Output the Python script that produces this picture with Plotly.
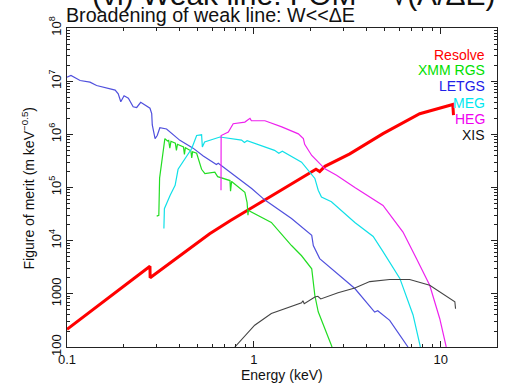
import plotly.graph_objects as go

# ---- data (energy keV, figure of merit) ----
resolve_e = [0.1, 0.278, 0.2785, 0.40, 0.58, 0.75, 1.0, 1.5, 2.0, 2.15, 2.25, 2.4, 3.26, 4.91, 7.72, 10.0, 11.6, 11.7]
resolve_v = [215, 3300, 2000, 5100, 13500, 24000, 44000, 1.03e5, 1.9e5, 2.2e5, 2.0e5, 2.5e5, 4.3e5, 1.03e6, 2.44e6, 3.2e6, 3.65e6, 2.3e6]

rgs_e = [0.302, 0.310, 0.313, 0.334, 0.345, 0.350, 0.355, 0.360, 0.380, 0.385, 0.390, 0.420, 0.425, 0.430,
         0.460, 0.465, 0.470, 0.494, 0.525, 0.547, 0.618, 0.640, 0.745, 0.75, 0.76, 0.859, 0.895, 0.92,
         0.93, 0.935, 1.146, 1.24, 1.59, 1.80, 2.04, 2.12, 2.21, 2.40, 2.62]
rgs_v = [2.9e4, 3.0e4, 1.5e5, 8.3e5, 7.5e5, 7.7e5, 5.5e5, 7.4e5, 6.8e5, 5.0e5, 6.5e5, 5.8e5, 4.2e5, 5.6e5,
         4.9e5, 3.6e5, 4.7e5, 4.4e5, 2.2e5, 1.82e5, 1.95e5, 1.6e5, 1.35e5, 8.5e4, 1.3e5, 8.9e4, 8.1e4, 5.2e4,
         3.0e4, 3.7e4, 2.6e4, 2.2e4, 8100, 5200, 2950, 930, 460, 224, 100]

letgs_e = [0.1, 0.105, 0.1175, 0.1327, 0.144, 0.181, 0.188, 0.194, 0.202, 0.213, 0.226, 0.236, 0.248,
           0.278, 0.284, 0.286, 0.296, 0.304, 0.314, 0.341, 0.402, 0.473, 0.536, 0.582, 0.63, 0.645,
           0.973, 1.146, 1.59, 2.04, 2.08, 2.25, 3.47, 4.43, 4.6, 5.33, 6.68]
letgs_v = [1.19e7, 1.28e7, 1.03e7, 9.6e6, 8.3e6, 6.8e6, 5.8e6, 4.1e6, 5.3e6, 4.8e6, 3.3e6, 3.2e6, 4.0e6,
           3.1e6, 2.45e6, 1.5e6, 8.3e5, 9.5e5, 1.33e6, 1.26e6, 7.7e5, 5.5e5, 3.9e5, 3.2e5, 2.7e5, 2.85e5,
           9.6e4, 5.8e4, 2.6e4, 1.26e4, 8100, 4600, 1260, 455, 480, 318, 100]

meg_e = [0.330, 0.332, 0.356, 0.379, 0.393, 0.428, 0.465, 0.494, 0.525, 0.530, 0.545, 0.658, 0.859, 0.89,
         0.92, 1.29, 1.36, 1.42, 1.80, 2.12, 2.21, 2.30, 2.60, 3.47, 4.35, 4.91, 6.04, 7.11, 7.78]
meg_v = [1.7e4, 4.0e4, 7.1e4, 1.1e5, 2.2e5, 3.5e5, 5.4e5, 9.5e5, 9.8e5, 5.8e5, 7.2e5, 8.9e5, 7.8e5, 7.0e5,
         7.6e5, 5.0e5, 4.4e5, 4.8e5, 3.0e5, 1.48e5, 8.9e4, 6.6e4, 5.4e4, 2.2e4, 1.2e4, 6200, 1950, 400, 100]

heg_e = [0.667, 0.668, 0.730, 0.775, 0.895, 0.953, 0.97, 1.146, 1.41, 1.73, 1.84, 1.87, 2.04, 2.21,
         2.40, 2.77, 3.47, 4.91, 6.28, 7.41, 8.73, 9.88, 10.7]
heg_v = [8.9e4, 9.5e5, 1.1e6, 1.58e6, 1.7e6, 2.0e6, 1.8e6, 1.8e6, 1.38e6, 1.02e6, 8.3e5, 6.5e5, 4.0e5, 3.0e5,
         2.24e5, 1.7e5, 1.0e5, 4.6e4, 1.45e4, 4600, 1450, 340, 100]

xis_e = [0.791, 1.01, 1.24, 1.56, 1.58, 1.80, 1.83, 1.86, 2.12, 2.2, 2.28, 2.82, 3.47, 4.17, 5.33, 6.82,
         8.73, 10.7, 11.9, 12.0]
xis_v = [100, 257, 427, 562, 590, 676, 740, 650, 870, 900, 800, 1050, 1290, 1700, 1860, 1860,
         1450, 930, 710, 525]

x_tickvals = [0.1, 1, 10]
x_ticktext = ["0.1", "1", "10"]
y_tickvals = [1e2, 1e3, 1e4, 1e5, 1e6, 1e7, 1e8]
y_ticktext = ["100", "1000", "10<sup>4</sup>", "10<sup>5</sup>", "10<sup>6</sup>", "10<sup>7</sup>", "10<sup>8</sup>"]

legend_names = ["Resolve", "XMM RGS", "LETGS", "MEG", "HEG", "XIS"]
legend_colors = ["#ff0000", "#00e000", "#2020e8", "#00e8f0", "#f000f0", "#111111"]

FONT = "Liberation Sans, Arial, Helvetica, sans-serif"

fig = go.Figure()
series = [
    (resolve_e, resolve_v, "#ff0000", 3),
    (rgs_e, rgs_v, "#22dd22", 1.2),
    (letgs_e, letgs_v, "#5050dd", 1.2),
    (meg_e, meg_v, "#10e0e8", 1.2),
    (heg_e, heg_v, "#ee22ee", 1.2),
    (xis_e, xis_v, "#444444", 1.1),
]
for xs, ys, c, w in series:
    fig.add_trace(go.Scatter(x=xs, y=ys, mode="lines", line=dict(color=c, width=w), showlegend=False,
                             hoverinfo="skip"))

x_minor = [k * 10.0 ** d for d in (-1, 0, 1) for k in range(2, 10) if k * 10.0 ** d < 20]
y_minor = [k * 10.0 ** d for d in range(2, 8) for k in range(2, 10)]

axis_common = dict(type="log", showgrid=False, zeroline=False, showline=True, linecolor="#222",
                   linewidth=1, mirror="ticks", ticks="inside", ticklen=6, tickcolor="#222",
                   tickfont=dict(family=FONT, size=13, color="#111"))
fig.update_xaxes(range=[-1, 1.30103], tickmode="array", tickvals=x_tickvals, ticktext=x_ticktext,
                 minor=dict(tickmode="array", tickvals=x_minor, ticks="inside", ticklen=3, tickcolor="#222"),
                 **axis_common)
fig.update_yaxes(range=[2, 8], tickmode="array", tickvals=y_tickvals, ticktext=y_ticktext, tickangle=-90,
                 minor=dict(tickmode="array", tickvals=y_minor, ticks="inside", ticklen=3, tickcolor="#222"),
                 **axis_common)

ann = []
# large slide heading, mostly cut off at the top edge of the picture
ann.append(dict(x=0.053, y=1.047, xref="paper", yref="paper", text="(vi) Weak line: FOM ~ √(A/ΔE)",
                showarrow=False, xanchor="left", yanchor="bottom", font=dict(family=FONT, size=30, color="#111")))
leg_y = [0.9166, 0.8696, 0.8172, 0.7649, 0.716, 0.6658]
for name, col, yy in zip(legend_names, legend_colors, leg_y):
    ann.append(dict(x=0.977, y=yy, xref="paper", yref="paper", text=name, showarrow=False,
                    xanchor="right", yanchor="middle", font=dict(family=FONT, size=14, color=col)))
ann.append(dict(x=0.5, y=-0.0887, xref="paper", yref="paper", text="Energy (keV)", showarrow=False,
                xanchor="center", yanchor="middle", font=dict(family=FONT, size=14, color="#111")))
ann.append(dict(x=-0.0907, y=0.5, xref="paper", yref="paper", text="Figure of merit (m keV<sup>−0.5</sup>)",
                showarrow=False, xanchor="center", yanchor="middle", textangle=-90,
                font=dict(family=FONT, size=14, color="#111")))

fig.update_layout(width=506, height=385, margin=dict(l=67, r=9, t=28, b=38, pad=0),
                  paper_bgcolor="white", plot_bgcolor="white", showlegend=False, annotations=ann,
                  title=dict(text="Broadening of weak line: W&lt;&lt;ΔE", x=0.1304, xref="container",
                             xanchor="left", y=1 - 15.5 / 385, yref="container", yanchor="middle",
                             font=dict(family=FONT, size=19.7, color="#111")))

fig.write_html("out.html")
